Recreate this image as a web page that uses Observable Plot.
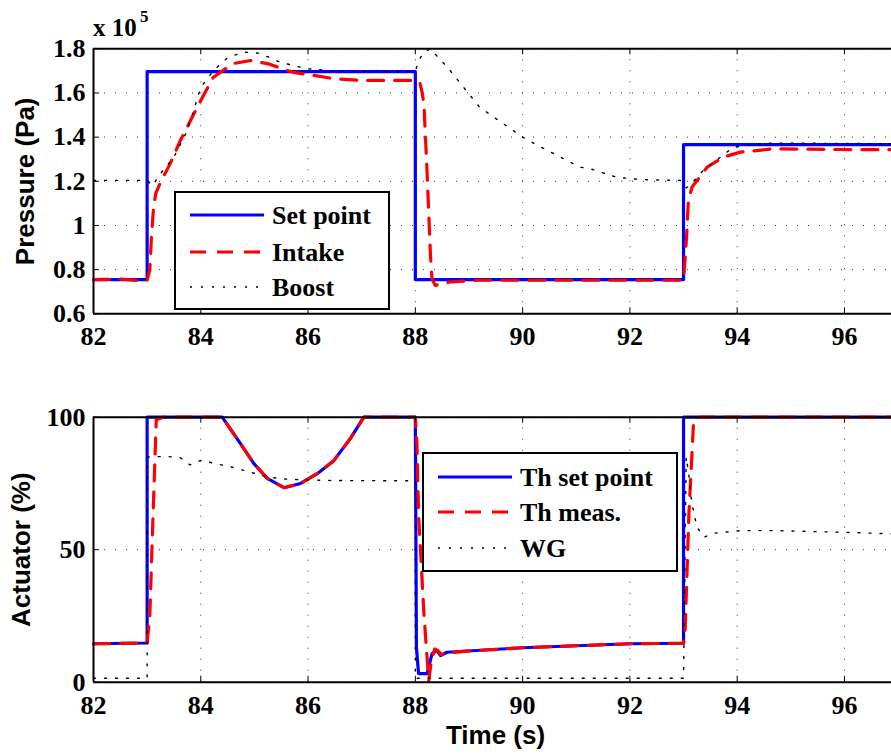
<!DOCTYPE html>
<html>
<head>
<meta charset="utf-8">
<script src="https://cdn.jsdelivr.net/npm/d3@7"></script>
<script src="https://cdn.jsdelivr.net/npm/@observablehq/plot@0.6"></script>
<style>
  html, body { margin: 0; padding: 0; background: #fff; }
  #wrap { position: relative; width: 891px; height: 756px; overflow: hidden; background: #fff; }
  #wrap > svg, #wrap > figure { position: absolute; left: 0; margin: 0; }
  #wrap svg text { font-weight: bold; }
  .serif, .serif text { font-family: "Liberation Serif", "DejaVu Serif", serif !important; }
</style>
</head>
<body>
<div id="wrap"></div>
<script>
// ---------------- data (pressure in 1e5 Pa, actuator in %) ----------------
const xTicks = [82, 84, 86, 88, 90, 92, 94, 96];
const pTicks = [0.6, 0.8, 1, 1.2, 1.4, 1.6, 1.8];
const aTicks = [0, 50, 100];

const setPointT = [82, 83, 83, 88, 88, 93, 93, 96.88];
const setPointP = [0.755, 0.755, 1.697, 1.697, 0.755, 0.755, 1.366, 1.366];

const intakeT = [82, 82.5, 82.9, 83.0, 83.05, 83.08, 83.12, 83.16, 83.25, 83.43, 83.62, 84.0, 84.23, 84.6, 84.93, 85.24, 85.73, 86.1, 86.47, 87.0, 88.0, 88.08, 88.12, 88.16, 88.22, 88.28, 88.31, 88.37, 88.5, 88.65, 89.2, 90, 92, 93.0, 93.03, 93.06, 93.09, 93.16, 93.44, 93.75, 94.06, 94.68, 95.92, 96.88];
const intakeP = [0.755, 0.757, 0.75, 0.752, 0.8, 0.95, 1.08, 1.144, 1.196, 1.28, 1.385, 1.566, 1.67, 1.733, 1.747, 1.733, 1.693, 1.68, 1.665, 1.657, 1.657, 1.65, 1.61, 1.55, 1.236, 0.874, 0.76, 0.729, 0.735, 0.745, 0.752, 0.752, 0.752, 0.752, 0.85, 0.963, 1.114, 1.174, 1.264, 1.31, 1.332, 1.347, 1.344, 1.343];

const boostT = [82, 83.0, 83.1, 83.25, 83.5, 83.75, 84.0, 84.23, 84.5, 84.8, 85.1, 85.47, 85.97, 86.47, 87.0, 88.0, 88.05, 88.15, 88.28, 88.6, 89.2, 90.0, 90.34, 91.07, 91.26, 91.76, 92.2, 92.94, 93.05, 93.15, 93.37, 93.69, 93.93, 94.49, 95.5, 96.88];
const boostP = [1.204, 1.204, 1.18, 1.235, 1.31, 1.43, 1.625, 1.70, 1.76, 1.785, 1.78, 1.74, 1.71, 1.70, 1.697, 1.697, 1.74, 1.783, 1.80, 1.716, 1.535, 1.40, 1.355, 1.264, 1.257, 1.218, 1.208, 1.204, 1.17, 1.19, 1.25, 1.31, 1.355, 1.372, 1.372, 1.37];

const thSetT = [82, 83, 83, 84.4, 84.74, 84.99, 85.24, 85.55, 85.86, 86.17, 86.48, 86.79, 87.04, 88.0, 88.02, 88.06, 88.22, 88.31, 88.4, 88.47, 88.59, 90, 92, 93, 93, 96.88];
const thSetV = [14.5, 14.8, 100, 100, 90, 82.5, 76.9, 73.4, 75, 78.7, 83.6, 92, 100, 100, 13.2, 3.2, 3.2, 10.7, 12, 10, 11.3, 13, 14.5, 14.7, 100, 100];

const thMeasT = [82, 83.0, 83.05, 83.11, 83.17, 83.3, 84.4, 84.74, 84.99, 85.24, 85.55, 85.86, 86.17, 86.48, 86.79, 87.04, 88.0, 88.03, 88.06, 88.16, 88.25, 88.3, 88.36, 88.42, 88.48, 88.6, 89, 90, 92, 93.0, 93.03, 93.1, 93.19, 93.3, 96.88];
const thMeasV = [14.5, 14.8, 25, 63, 99, 100, 100, 90, 82.5, 76.9, 73.4, 75, 78.7, 83.6, 92, 100, 100, 90, 63.5, 25.8, 0.6, 8, 12.5, 12, 10.5, 11, 11.8, 13, 14.5, 14.7, 20, 63.5, 99.4, 100, 100];

const wgT = [82, 83.0, 83.0, 83.37, 83.62, 83.8, 84.0, 84.3, 84.61, 84.99, 85.24, 85.55, 85.86, 86.47, 88.0, 88.0, 93.0, 93.05, 93.1, 93.15, 93.25, 93.38, 93.56, 94.06, 94.68, 95.92, 96.88];
const wgV = [1.5, 1.5, 85, 85.2, 84.7, 82, 83.7, 82.4, 81, 78.9, 77.4, 76.7, 76.4, 76.1, 76, 1.5, 1.5, 85, 78, 68, 58.5, 54.7, 56.2, 57.2, 57.2, 56.6, 56];

const topLegend = ["Set point", "Intake", "Boost"];
const bottomLegend = ["Th set point", "Th meas.", "WG"];

// ---------------- helpers ----------------
const zip = (T, V) => T.map((t, i) => ({t, v: V[i]}));
const BLUE = "#0000ff", RED = "#ff0000";
const serif = "Liberation Serif, DejaVu Serif, serif";
const sans = "Liberation Sans, Arial, sans-serif";
const W = 891;
const plotW = W - 93;
const plotH = 265;

function panel({yDomain, yTicks, data, label, marginTop, marginBottom, xLabel}) {
  const [a, b, c] = data;
  const marks = [
    Plot.gridX(xTicks, {stroke: "#000", strokeOpacity: 0.8, strokeWidth: 1, strokeDasharray: "1,10"}),
    Plot.gridY(yTicks, {stroke: "#000", strokeOpacity: 0.8, strokeWidth: 1, strokeDasharray: "1,10"}),
    Plot.line(a, {x: "t", y: "v", stroke: BLUE, strokeWidth: 3.2}),
    Plot.line(b, {x: "t", y: "v", stroke: RED, strokeWidth: 3.2, strokeDasharray: "16,11"}),
    Plot.line(c, {x: "t", y: "v", stroke: "#000", strokeWidth: 1.4, strokeDasharray: "2,9"}),
    Plot.ruleX([xTicks[0]], {stroke: "#000", strokeWidth: 2}),
    Plot.ruleY([yDomain[0], yDomain[1]], {stroke: "#000", strokeWidth: 2}),
    Plot.tickX(xTicks, {x: d => d, stroke: "#000", strokeWidth: 1, insetTop: plotH - 6}),
    Plot.tickX(xTicks, {x: d => d, stroke: "#000", strokeWidth: 1, insetBottom: plotH - 6}),
    Plot.tickY(yTicks, {y: d => d, stroke: "#000", strokeWidth: 1, insetRight: plotW - 6}),
    Plot.axisX(xTicks, {anchor: "bottom", tickSize: 0, tickPadding: 13, label: null, tickFormat: d => String(d), className: "serif"}),
    Plot.axisY(yTicks, {anchor: "left", tickSize: 0, tickPadding: 8, label: null, tickFormat: d => String(d), className: "serif"}),
    Plot.text([label], {frameAnchor: "left", rotate: -90, dx: label.startsWith("P") ? -68 : -72,
      textAnchor: "middle", lineAnchor: "middle",
      fontFamily: sans, fontWeight: "bold", fontSize: 26, fill: "#000"})
  ];
  if (xLabel) marks.push(Plot.text([xLabel], {frameAnchor: "bottom", dy: 53, dx: 3,
      textAnchor: "middle", lineAnchor: "middle",
      fontFamily: sans, fontWeight: "bold", fontSize: 26, fill: "#000"}));
  return Plot.plot({
    width: W, height: 378,
    marginLeft: 93, marginRight: 0, marginTop, marginBottom,
    x: {domain: [82, 82 + plotW / 53.64]},
    y: {domain: yDomain},
    style: {fontFamily: serif, fontWeight: "bold", fontSize: "26px", color: "#000", background: "transparent", overflow: "visible"},
    marks
  });
}

const wrap = document.getElementById("wrap");
const topPanel = panel({
  yDomain: [0.6, 1.8], yTicks: pTicks,
  data: [zip(setPointT, setPointP), zip(intakeT, intakeP), zip(boostT, boostP)],
  label: "Pressure (Pa)", marginTop: 48.3, marginBottom: 378 - 313.3
});
topPanel.style.top = "0px";
wrap.appendChild(topPanel);

const botPanel = panel({
  yDomain: [0, 100], yTicks: aTicks,
  data: [zip(thSetT, thSetV), zip(thMeasT, thMeasV), zip(wgT, wgV)],
  label: "Actuator (%)", marginTop: 416.7 - 378, marginBottom: 756 - 681.7, xLabel: "Time (s)"
});
botPanel.style.top = "378px";
wrap.appendChild(botPanel);

// ---------------- overlay: legends and exponent ----------------
const ov = d3.select(wrap).append("svg")
  .attr("width", W).attr("height", 756)
  .style("position", "absolute").style("left", "0px").style("top", "0px");

const styles = [
  {stroke: BLUE, width: 3.2, dash: null},
  {stroke: RED, width: 3.2, dash: "16,11"},
  {stroke: "#000", width: 1.4, dash: "2,9"}
];

function legend(x, y, w, h, rows, labels) {
  const g = ov.append("g").attr("transform", `translate(${x},${y})`);
  g.append("rect").attr("width", w).attr("height", h)
    .attr("fill", "#fff").attr("stroke", "#000").attr("stroke-width", 2);
  labels.forEach((lab, i) => {
    const s = styles[i];
    g.append("line").attr("x1", 15).attr("x2", 89).attr("y1", rows[i]).attr("y2", rows[i])
      .attr("stroke", s.stroke).attr("stroke-width", s.width)
      .attr("stroke-dasharray", s.dash);
    g.append("text").attr("class", "serif").attr("x", 97).attr("y", rows[i] + 9)
      .attr("font-size", 26).attr("fill", "#000").text(lab);
  });
}
legend(175, 192, 214, 117, [23, 60, 95], topLegend);
legend(423, 453, 254, 118, [24, 59, 95], bottomLegend);

const ex = ov.append("text").attr("class", "serif").attr("fill", "#000");
ex.append("tspan").attr("x", 93).attr("y", 36).attr("font-size", 25).text("x 10");
ex.append("tspan").attr("x", 140).attr("y", 22).attr("font-size", 17).text("5");
</script>
</body>
</html>
